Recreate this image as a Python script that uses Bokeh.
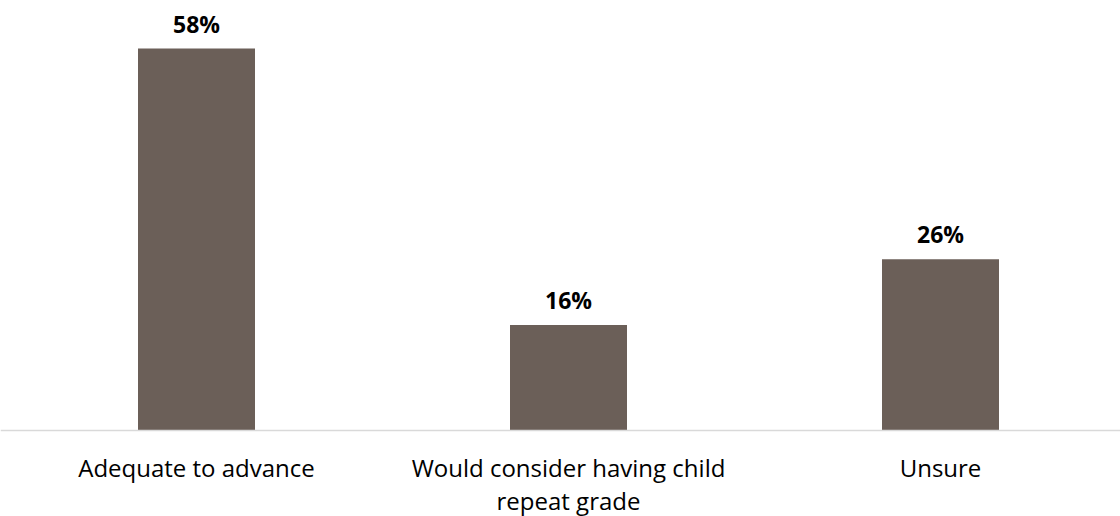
from bokeh.plotting import figure
from bokeh.models import ColumnDataSource, Range1d, Span
from bokeh.core.properties import value
from bokeh.embed import file_html
from bokeh.resources import INLINE

categories = ["Adequate to advance", "Would consider having child\nrepeat grade", "Unsure"]
values = [58, 16, 26]
labels = ["58%", "16%", "26%"]

xs = list(range(len(categories)))
src = ColumnDataSource(dict(x=xs, top=values, lab=labels, cat=categories, zero=[0] * len(xs)))

W, H = 1120, 516
px_per_unit = 372.0
left_px = 196
x_start = 0 - left_px / px_per_unit
x_end = x_start + W / px_per_unit

px_per_pct = 6.586
zero_px = 430
y_end = zero_px / px_per_pct
y_start = -(H - zero_px) / px_per_pct

p = figure(width=W, height=H, output_backend="svg", toolbar_location=None,
           x_range=Range1d(x_start, x_end), y_range=Range1d(y_start, y_end),
           min_border=0)
p.axis.visible = False
p.grid.visible = False
p.outline_line_color = None
p.background_fill_color = "white"

p.add_layout(Span(location=0, dimension="width", line_color="#D9D9D9", line_width=1.5))

p.vbar(x="x", top="top", bottom=0, width=117 / px_per_unit, source=src,
       fill_color="#6B5F58", line_color=None)

p.text(x="x", y="top", text="lab", source=src, text_align="center", text_baseline="bottom",
       y_offset=-9, text_font=value("Open Sans"), text_font_size="23px",
       text_font_style="bold", text_color="black")

p.text(x="x", y="zero", text="cat", source=src, text_align="center", text_baseline="top",
       y_offset=20, text_font=value("Open Sans"), text_font_size="24px",
       text_line_height=1.0, text_color="black")

open("out.html", "w").write(file_html(p, INLINE))
